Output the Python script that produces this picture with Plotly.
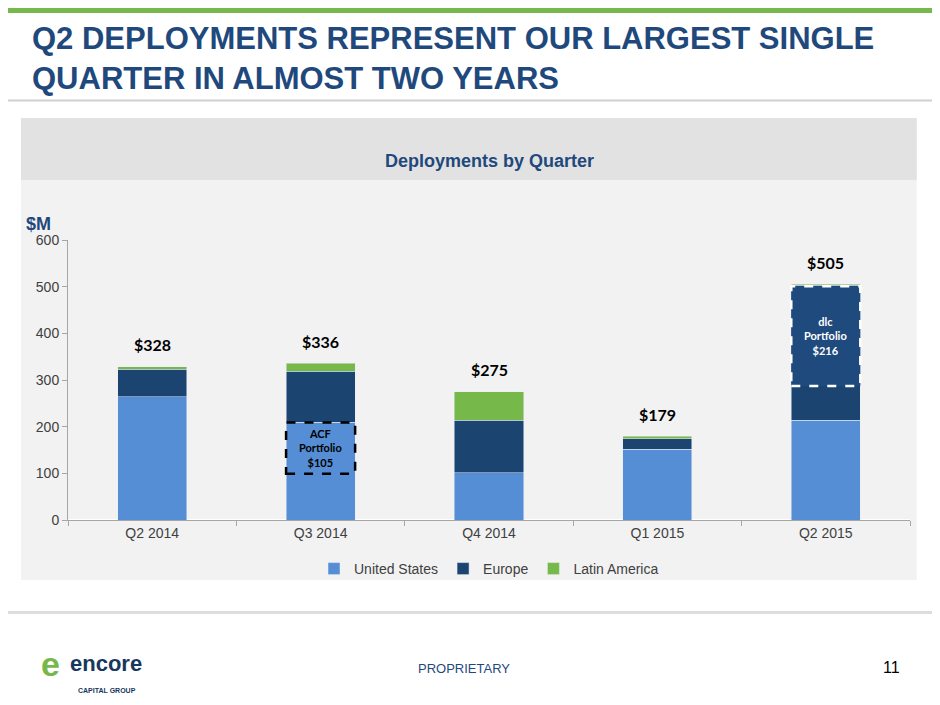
import plotly.graph_objects as go

quarters = ["Q2 2014", "Q3 2014", "Q4 2014", "Q1 2015", "Q2 2015"]
us = [264, 210, 101, 152, 214]
europe = [59, 109, 113, 22, 289]
latam = [5, 17, 61, 5, 2]
totals = ["$328", "$336", "$275", "$179", "$505"]
total_vals = [328, 336, 275, 179, 505]

fig = go.Figure()
fig.add_bar(x=quarters, y=us, name="United States", marker_color="#558ED5")
fig.add_bar(x=quarters, y=europe, name="Europe", marker_color="#1B4570")
fig.add_bar(x=quarters, y=latam, name="Latin America", marker_color="#77B84A")

hw = 0.205
shapes = [
    dict(type="rect", xref="paper", yref="paper", x0=-0.0558, x1=1.008, y0=-0.214, y1=1.436,
         fillcolor="#F2F2F2", line_width=0, layer="below"),
    dict(type="rect", xref="paper", yref="paper", x0=-0.0558, x1=1.008, y0=1.214, y1=1.436,
         fillcolor="#E2E2E2", line_width=0, layer="below"),
    dict(type="rect", xref="paper", yref="paper", x0=-0.0795, x1=1.045, y0=1.811, y1=1.87,
         fillcolor="#77B84A", line_width=0, layer="below"),
    dict(type="line", xref="paper", yref="paper", x0=-0.0795, x1=1.045, y0=1.498, y1=1.498,
         line=dict(color="#D0D0D0", width=2)),
    dict(type="line", xref="paper", yref="paper", x0=-0.0795, x1=1.045, y0=-0.33, y1=-0.33,
         line=dict(color="#DDDDDD", width=3)),
    dict(type="rect", xref="x", yref="y", x0=1 - hw, x1=1 + hw, y0=99, y1=209,
         line=dict(color="black", width=2.5, dash="dash"), fillcolor="rgba(0,0,0,0)"),
    dict(type="rect", xref="x", yref="y", x0=4 - hw, x1=4 + hw, y0=287, y1=501,
         line=dict(color="white", width=2.5, dash="dash"), fillcolor="#1F4A7E"),
]

ann = []
for q, t, v in zip(quarters, totals, total_vals):
    ann.append(dict(x=q, y=v, text=f"<b>{t}</b>", showarrow=False, yshift=22,
                    font=dict(family="Lato", size=16, color="black")))
ann += [
    dict(x=1, y=154, xref="x", yref="y", text="<b>ACF<br>Portfolio<br>$105</b>", showarrow=False,
         font=dict(family="Lato", size=11, color="black")),
    dict(x=4, y=395, xref="x", yref="y", text="<b>dlc<br>Portfolio<br>$216</b>", showarrow=False,
         font=dict(family="Lato", size=11, color="white")),
    dict(x=-0.052, y=1.10, xref="paper", yref="paper", text="<b>$M</b>", showarrow=False,
         xanchor="left", font=dict(family="Liberation Sans", size=18, color="#1F497D")),
    dict(x=0.5, y=1.325, xref="paper", yref="paper", text="<b>Deployments by Quarter</b>", showarrow=False,
         font=dict(family="Liberation Sans", size=18, color="#1F497D")),
    dict(x=-0.045, y=1.79, xref="paper", yref="paper", xanchor="left",
         text="<b>Q2 DEPLOYMENTS REPRESENT OUR LARGEST SINGLE<br>QUARTER IN ALMOST TWO YEARS</b>",
         showarrow=False, align="left",
         font=dict(family="Liberation Sans", size=31, color="#1F497D")),
    dict(x=0.47, y=-0.565, xref="paper", yref="paper", text="PROPRIETARY", showarrow=False,
         font=dict(family="Liberation Sans", size=13, color="#1F497D")),
    dict(x=0.99, y=-0.565, xref="paper", yref="paper", text="11", showarrow=False,
         font=dict(family="Liberation Sans", size=16, color="black")),
    dict(x=0.0, y=-0.565, xref="paper", yref="paper", xanchor="left",
         text="<b>encore</b>", showarrow=False,
         font=dict(family="Liberation Sans", size=22, color="#17375E")),
    dict(x=0.01, y=-0.63, xref="paper", yref="paper", xanchor="left",
         text="<b>CAPITAL GROUP</b>", showarrow=False,
         font=dict(family="Liberation Sans", size=7, color="#17375E")),
    dict(x=-0.035, y=-0.59, xref="paper", yref="paper", text="<b>e</b>", showarrow=False,
         font=dict(family="Liberation Sans", size=34, color="#77B84A")),
]

fig.update_layout(
    barmode="stack", bargap=0.59,
    width=940, height=705,
    margin=dict(l=60, r=38, t=232, b=193),
    paper_bgcolor="white", plot_bgcolor="#F2F2F2",
    shapes=shapes, annotations=ann,
    font=dict(family="Liberation Sans", size=14, color="#404040"),
    legend=dict(orientation="h", x=0.5, xanchor="center", y=-0.175, yanchor="middle",
                traceorder="normal", bgcolor="rgba(0,0,0,0)",
                font=dict(size=14, color="#404040")),
    xaxis=dict(range=[-0.5, 4.5], showline=True, linecolor="#A6A6A6", ticks="outside",
               tickson="boundaries", tickcolor="#A6A6A6", tickfont=dict(size=14)),
    yaxis=dict(range=[0, 600], dtick=100, showgrid=False, showline=True, linecolor="#A6A6A6",
               ticks="outside", tickcolor="#A6A6A6", tickfont=dict(size=14)),
)
fig.write_html("out.html")
